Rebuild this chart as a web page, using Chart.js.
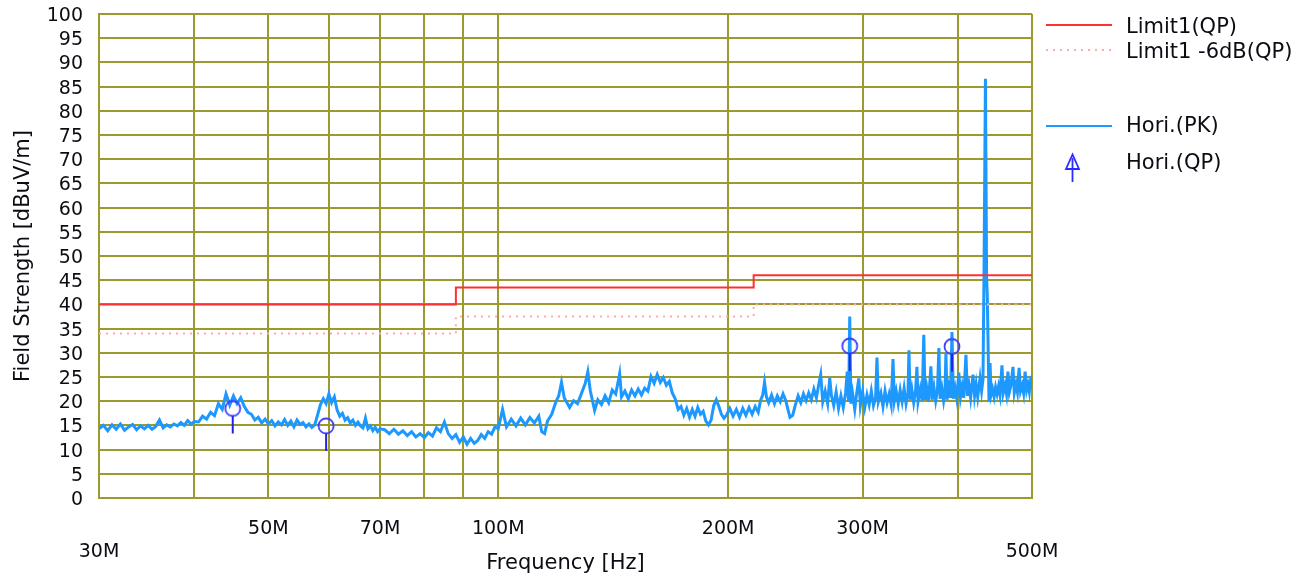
<!DOCTYPE html>
<html><head><meta charset="utf-8">
<script src="https://cdn.jsdelivr.net/npm/chart.js@4/dist/chart.umd.min.js"></script>
<style>html,body{margin:0;padding:0;background:#fff;}canvas{display:block;}</style>
</head><body>
<canvas id="c" width="1312" height="577"></canvas>
<script>
// ---- data (frequencies in MHz, levels in dBuV/m) ----
const xTickValues = [30, 40, 50, 60, 70, 80, 90, 100, 200, 300, 400, 500];
const xTickLabels = ['30M', '', '50M', '', '70M', '', '', '100M', '200M', '300M', '', '500M'];
const xTickLowered = ['30M', '500M'];

const limitFreq = [30, 88, 88, 216, 216, 500];
const limitQP   = [40, 40, 43.5, 43.5, 46, 46];
const limitQP6  = [34, 34, 37.5, 37.5, 40, 40];

const qpFreq = [44.9, 59.5, 288.6, 392.8];
const qpVals = [18.5, 14.9, 31.4, 31.3];

const pkFreq = [
  30.0,30.4,30.8,31.2,31.6,32.0,32.4,32.8,33.2,33.6,34.0,34.4,34.8,35.2,35.6,36.0,36.4,36.8,37.2,37.6,38.0,38.4,38.8,39.2,39.6,40.0,
  40.5,41.0,41.5,42.0,42.5,43.0,43.5,44.0,44.5,45.0,45.5,46.0,46.5,47.0,47.5,48.0,48.5,49.0,49.5,50.0,
  50.5,51.0,51.5,52.0,52.5,53.0,53.5,54.0,54.5,55.0,55.5,56.0,56.5,57.0,57.5,58.0,58.5,59.0,59.5,60.0,
  60.5,61.0,61.5,62.0,62.5,63.0,63.5,64.0,64.5,65.0,65.5,66.0,66.5,67.0,67.5,68.0,68.5,69.0,69.5,70.0,
  71,72,73,74,75,76,77,78,79,80,81,82,83,84,85,86,87,88,89,90,91,92,93,94,95,96,97,98,99,100,
  101.3,102.5,104,105.5,107,108.5,110,111.5,113,114,115,116,117.5,119,120,121,122,124,125.5,127,
  128.3,130,131,132,133.7,135,136.5,138,139.5,141,142.5,144.2,145,146.5,148,149.5,151,152.5,154,155.5,
  157,158.5,160,161.5,163,164.5,166,167.5,169,170.5,172,173.5,175,176.5,178,179.5,181,182.5,184,185.5,
  187,188.5,190,191.5,193,194.5,196,197.5,199,201,203,205,207,209,211,213,215,217,219,220.5,
  222,223.2,224.5,226,228,230,232,234,236,238,239.5,241,243,245,247,249,251,253,255,257,
  259,261,263,264.4,266,268,270,271.7,273,275,277,279,281,283,285,286.4,287.6,288.6,289.6,291,
  293,294.5,296.6,298,300,302,304,306,308,310,312,313.3,314.6,317,319,321,323,325,327,328.8,
  330.2,332,334,336,338,340,342,344,345,346.2,348,350,352,353.4,354.6,357,359,360.8,362.2,364,
  366,368.6,370,372,374,376,377.6,379,381,383,384.6,385.7,387,389,391,392.8,394.4,396.5,398.5,401,
  403,405,407,409.7,411.5,413.5,415.5,418.5,420.5,422.5,424.5,427.5,429.5,431.3,432.6,434.5,436.0,437.0,438.2,439.2,
  440.6,442,444,446,448,450,452,454,456.7,458.5,461,463,465,467,469.5,472.1,474,476.5,478.5,480.9,
  483,485.5,487.5,489.7,492,494,496,498.6,500
];
const pkVals = [
  14.3,15.0,13.9,15.1,14.2,15.3,14.0,14.7,15.2,14.1,14.9,14.3,15.0,14.2,14.8,16.1,14.5,15.1,14.7,15.3,14.9,15.6,15.0,16.0,15.3,15.8,
  15.7,16.9,16.3,17.7,17.0,19.5,18.3,21.5,19.2,21.1,19.5,20.7,18.9,17.7,17.3,16.1,16.7,15.5,16.3,15.3,
  16.0,14.9,15.7,15.1,16.2,15.0,15.9,14.7,16.1,15.2,15.6,14.7,15.3,14.6,15.1,17.2,19.3,20.5,19.5,21.5,
  19.7,20.9,18.2,16.9,17.5,16.1,16.6,15.5,16.1,15.0,15.7,14.9,14.5,16.5,14.3,14.9,13.9,14.6,13.7,14.3,
  14.1,13.3,14.2,13.2,13.9,12.9,13.7,12.6,13.3,12.5,13.5,12.8,14.5,13.7,15.7,13.3,12.3,13.1,11.5,12.6,11.1,12.3,11.3,11.9,13.1,12.3,13.7,13.2,14.7,14.3,
  18.3,14.7,16.3,14.9,16.5,15.1,16.6,15.5,16.9,13.7,13.3,15.9,17.3,19.9,21.1,23.9,20.7,18.7,20.1,19.5,
  21.3,23.7,26.1,22.1,18.1,20.3,19.3,21.1,19.7,22.3,21.5,25.7,20.9,22.1,20.5,22.3,21.1,22.5,21.3,22.7,
  22.1,25.1,23.7,25.5,23.9,24.9,23.3,24.1,21.7,20.5,18.3,18.9,17.1,18.5,16.7,18.3,16.9,18.7,17.3,17.9,
  15.9,15.1,16.1,19.1,20.3,18.9,17.3,16.5,17.1,18.5,16.9,18.3,16.7,18.5,17.1,18.7,17.3,18.9,17.7,20.1,
  21.3,23.9,20.9,19.7,21.3,19.5,21.1,19.9,21.5,20.1,18.3,16.7,17.1,19.3,21.1,19.7,21.5,20.1,21.7,20.3,
  22.5,20.7,23.7,25.5,19.9,22.1,19.5,24.8,21.3,19.1,21.9,18.5,21.1,18.7,21.7,26.1,19.9,37.5,19.5,21.7,
  18.3,21.3,24.7,19.1,21.9,18.7,21.3,19.3,22.1,19.1,20.7,29.0,19.9,21.7,18.9,22.1,19.7,21.5,19.3,28.7,
  20.1,22.1,19.5,22.3,19.9,22.7,19.5,21.7,30.5,20.3,22.5,19.7,22.1,27.1,19.9,22.5,20.1,33.7,20.3,22.7,
  19.9,27.2,20.3,22.9,20.1,22.3,31.0,20.5,22.7,20.1,22.1,30.0,20.3,22.9,20.7,34.3,20.5,22.7,20.5,25.9,
  20.9,23.1,20.7,29.6,21.1,23.3,20.7,25.5,21.1,23.5,20.9,24.8,22.1,24.5,45.7,86.6,45.9,41.3,29.7,19.9,
  27.9,21.3,22.5,20.9,22.9,21.5,23.1,21.3,27.4,21.7,23.3,21.5,26.1,21.9,23.5,27.1,21.7,23.5,21.9,26.9,
  22.1,23.3,21.7,26.1,22.3,23.5,21.9,25.2,22.5
];

// ---- styling ----
const FONT = '"DejaVu Sans", Verdana, sans-serif';
const GRID = '#9c9a2c';
const TEXT = '#0c0c14';

const toPts = (xs, ys) => xs.map((x, i) => ({x, y: ys[i]}));

// QP marker: circle with tail
const qpMark = document.createElement('canvas');
qpMark.width = 24; qpMark.height = 60;
(() => {
  const g = qpMark.getContext('2d');
  g.strokeStyle = '#3d3dff'; g.lineWidth = 1.8;
  g.beginPath(); g.arc(12, 30, 7.5, 0, Math.PI * 2); g.stroke();
  g.strokeStyle = '#2222e0'; g.lineWidth = 2;
  g.beginPath(); g.moveTo(12, 37.5); g.lineTo(12, 55); g.stroke();
})();

const legendPlugin = {
  id: 'sideLegend',
  afterDraw(chart) {
    const ctx = chart.ctx;
    ctx.save();
    ctx.font = '21px ' + FONT;
    ctx.fillStyle = TEXT;
    ctx.textBaseline = 'middle';
    ctx.textAlign = 'left';
    // Limit1(QP)
    ctx.strokeStyle = '#ff3030'; ctx.lineWidth = 2;
    ctx.beginPath(); ctx.moveTo(1046, 25); ctx.lineTo(1112, 25); ctx.stroke();
    ctx.fillText('Limit1(QP)', 1126, 28);
    // Limit1 -6dB(QP)
    ctx.strokeStyle = '#ffaaaa'; ctx.lineWidth = 2; ctx.setLineDash([2, 5]);
    ctx.beginPath(); ctx.moveTo(1046, 50); ctx.lineTo(1112, 50); ctx.stroke();
    ctx.setLineDash([]);
    ctx.fillText('Limit1 -6dB(QP)', 1126, 53);
    // Hori.(PK)
    ctx.strokeStyle = '#1c98ff'; ctx.lineWidth = 2;
    ctx.beginPath(); ctx.moveTo(1046, 126); ctx.lineTo(1112, 126); ctx.stroke();
    ctx.fillText('Hori.(PK)', 1126, 127);
    // Hori.(QP) arrow
    ctx.strokeStyle = '#2b2bff'; ctx.lineWidth = 1.8;
    ctx.beginPath();
    ctx.moveTo(1072.5, 154.5); ctx.lineTo(1066, 169); ctx.lineTo(1079, 169); ctx.closePath(); ctx.stroke();
    ctx.beginPath(); ctx.moveTo(1072.5, 158); ctx.lineTo(1072.5, 182); ctx.stroke();
    ctx.fillText('Hori.(QP)', 1126, 164);
    ctx.restore();
  }
};

new Chart(document.getElementById('c'), {
  type: 'line',
  data: {
    datasets: [
      { label: 'Hori.(QP)', data: toPts(qpFreq, qpVals), showLine: false,
        pointStyle: qpMark, pointRadius: 8, order: 0 },
      { label: 'Limit1(QP)', data: toPts(limitFreq, limitQP), borderColor: '#ff3030',
        borderWidth: 2, pointRadius: 0, order: 1 },
      { label: 'Limit1 -6dB(QP)', data: toPts(limitFreq, limitQP6), borderColor: '#ffaaaa',
        borderWidth: 2, borderDash: [2, 5], pointRadius: 0, order: 1 },
      { label: 'Hori.(PK)', data: toPts(pkFreq, pkVals), borderColor: '#1c98ff',
        borderWidth: 3, pointRadius: 0, tension: 0, order: 2 }
    ]
  },
  options: {
    responsive: false,
    devicePixelRatio: 1,
    animation: false,
    layout: { padding: { left: 0, top: 14, right: 280, bottom: 0 } },
    plugins: { legend: { display: false }, tooltip: { enabled: false } },
    scales: {
      x: {
        type: 'logarithmic', min: 30, max: 500,
        afterBuildTicks: s => { s.ticks = xTickValues.map(v => ({ value: v })); },
        afterFit: s => { s.height = 79; s.paddingLeft = 0; s.paddingRight = 0; },
        grid: { color: GRID, lineWidth: 2, drawTicks: false },
        border: { color: GRID, width: 2 },
        ticks: {
          autoSkip: false, maxRotation: 0, padding: 20, color: TEXT,
          font: { family: FONT, size: 19, lineHeight: '23px' },
          callback: (v, i) => { const l = xTickLabels[i]; return xTickLowered.includes(l) ? ['', l] : l; }
        },
        title: { display: true, text: 'Frequency [Hz]', color: TEXT,
          font: { family: FONT, size: 21 }, padding: { top: 0, bottom: 1 } }
      },
      y: {
        min: 0, max: 100,
        afterFit: s => { s.width = 99; s.paddingTop = 0; s.paddingBottom = 0; },
        grid: { color: GRID, lineWidth: 2, drawTicks: false },
        border: { color: GRID, width: 2 },
        ticks: { stepSize: 5, autoSkip: false, padding: 16, labelOffset: 2, color: TEXT,
          font: { family: FONT, size: 19 } },
        title: { display: true, text: 'Field Strength [dBuV/m]', color: TEXT,
          font: { family: FONT, size: 21 }, padding: { top: 11, bottom: 0 } }
      }
    }
  },
  plugins: [legendPlugin]
});
</script>
</body></html>
